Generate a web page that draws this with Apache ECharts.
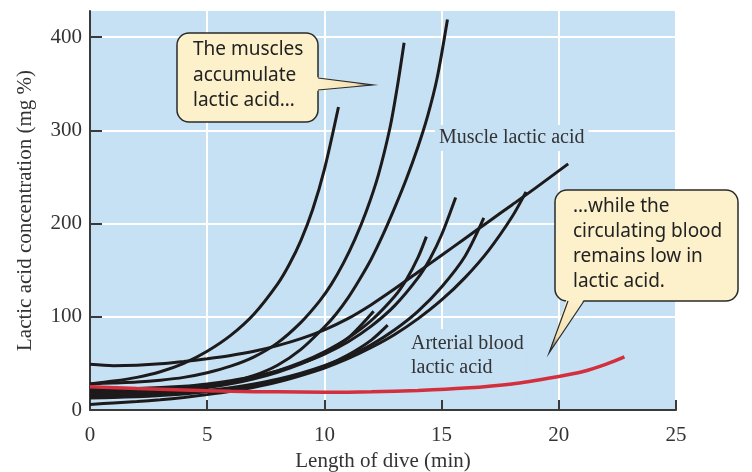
<!DOCTYPE html>
<html><head><meta charset="utf-8">
<script src="https://cdn.jsdelivr.net/npm/echarts@6/dist/echarts.min.js"></script>
<style>html,body{margin:0;padding:0;background:#fff}#c{width:752px;height:472px}</style>
</head><body><div id="c"></div>
<script>
// tick values
const xTicks = [0, 5, 10, 15, 20, 25];
const yTicks = [0, 100, 200, 300, 400];

// muscle lactic acid curves (minute, mg %)
const muscleA = [[0,28],[1,31],[2,35],[3,41],[4,50],[5,63],[6,80],[7,103],[8,135],[8.5,156],[9,182],[9.5,215],[10,258],[10.6,325]];
const muscleB = [[0,28],[1,29],[2,30],[3,32],[4,35],[5,40],[6,47],[7,57],[8,72],[9,94],[9.8,117],[10.3,135],[10.8,157],[11.3,183],[11.8,214],[12.3,252],[12.8,303],[13.1,345],[13.4,394]];
const muscleC = [[0,20],[1,20.5],[2,21],[3,22],[4,23.5],[5,26],[6,30],[7,37],[8,48],[9,65],[10,89],[10.5,103],[11,120],[11.5,140],[12,162],[12.5,188],[13,217],[13.5,248],[14,283],[14.4,315],[14.8,355],[15.25,419]];
const muscleD = [[0,22],[2,23],[4,25.5],[5,28],[6,31.5],[7,36],[8,42],[9,50],[10,60],[11,73],[12,90],[13,112],[14,142],[14.5,162],[15,188],[15.6,228]];
const muscleE = [[0,49],[1,47.5],[2,48],[3,49.5],[4,52],[5,55],[6,58.5],[7,63],[8,69],[9,76.5],[10,86],[11,98],[12,113],[13,130],[14,148],[15,166],[16,184],[17,202],[18,220],[19,238],[20.4,264]];
const muscleF = [[0,6],[1,7.5],[2,9],[3,11],[4,13.5],[5,16.5],[6,20],[7,24.5],[8,30],[9,37],[10,45],[11,55],[12,67],[13,81],[14,98],[15,118],[16,142],[17,171],[18,207],[18.6,234]];
const muscleG = [[0,15],[1,15.5],[2,16.3],[3,17.5],[4,19],[5,21],[6,24],[7,28],[8,33],[9,39.5],[10,47.5],[11,57.5],[12,70],[13,86],[14,106],[15,132],[16,165],[16.8,206]];
const muscleH = [[0,18],[1,18.5],[2,19.3],[3,20.5],[4,22.5],[5,25.5],[6,29.5],[7,35],[8,42],[9,51],[10,62.5],[11,77],[12,96],[13,122],[13.5,140],[14,164],[14.35,186]];
const muscleI = [[0,17],[1,17.3],[2,18],[3,19.3],[4,21.2],[5,24],[6,28],[7,33.5],[8,40.5],[9,49.5],[10,61],[11,77],[12.1,106]];
const muscleJ = [[0,13],[1,13.5],[2,14.3],[3,15.5],[4,17.2],[5,19.5],[6,22.5],[7,26.5],[8,31.5],[9,38],[10,47],[11,59],[12,75],[12.7,91]];
// arterial blood lactic acid
const arterial = [[0,25],[2,23],[4,21.5],[6,20],[8,19.5],[10,19],[12,19.5],[14,21],[16,23.5],[18,28],[20,36],[21,41],[22,49],[22.8,57]];

const muscleCurves = [muscleA, muscleB, muscleC, muscleD, muscleE, muscleF, muscleG, muscleH, muscleI, muscleJ];

const serif = 'Liberation Serif';
const sans = 'Noto Sans';
const plotBg = '#c6e0f4';
const axisColor = '#3a3a3a';

const chart = echarts.init(document.getElementById('c'), null, {renderer: 'canvas'});

const series = muscleCurves.map(d => ({
  type: 'line', data: d, smooth: 0.3, symbol: 'none', clip: false,
  lineStyle: {color: '#1c1a1a', width: 3}, z: 3
}));
series.push({
  type: 'line', data: arterial, smooth: 0.3, symbol: 'none',
  lineStyle: {color: '#d3303e', width: 3.5}, z: 4
});

const option = {
  animation: false,
  grid: {left: 90, right: 76, top: 11, bottom: 62, show: true, backgroundColor: plotBg, borderWidth: 0,
         containLabel: false, outerBoundsMode: 'none'},
  xAxis: {
    type: 'value', min: 0, max: 25, interval: 5,
    name: 'Length of dive (min)', nameLocation: 'middle', nameGap: 41,
    nameTextStyle: {fontFamily: serif, fontSize: 21, color: '#333'},
    axisLine: {lineStyle: {color: axisColor, width: 2}},
    axisTick: {inside: true, length: 10, lineStyle: {color: axisColor, width: 2}},
    axisLabel: {fontFamily: serif, fontSize: 21, color: '#333', margin: 15, customValues: xTicks},
    splitLine: {lineStyle: {color: '#ffffff', width: 2}}
  },
  yAxis: {
    type: 'value', min: 0, max: 428, interval: 100,
    name: 'Lactic acid concentration (mg %)', nameLocation: 'middle', nameGap: 54,
    nameTextStyle: {fontFamily: serif, fontSize: 21, color: '#333'},
    axisLine: {lineStyle: {color: axisColor, width: 2}},
    axisTick: {inside: true, length: 12, lineStyle: {color: axisColor, width: 2}, customValues: yTicks},
    axisLabel: {fontFamily: serif, fontSize: 21, color: '#333', margin: 8, customValues: yTicks},
    splitLine: {lineStyle: {color: '#ffffff', width: 2}}
  },
  series: series,
  graphic: [
    {type: 'text', z: 1, left: 435, top: 125,
     style: {text: 'Muscle lactic acid', font: '20px "' + serif + '"', fill: '#333', backgroundColor: plotBg, padding: [3, 4]}},
    {type: 'text', z: 1, left: 407, top: 329,
     style: {text: 'Arterial blood\nlactic acid', font: '20px "' + serif + '"', fill: '#333', lineHeight: 24, backgroundColor: plotBg, padding: [3, 4, 20, 4]}},
    // callout 1
    {type: 'polygon', z: 10, shape: {points: [[315, 77], [373, 85], [315, 91]]},
     style: {fill: new echarts.graphic.LinearGradient(0, 0, 1, 0, [{offset: 0, color: '#fdf1cb'}, {offset: 0.7, color: '#f3e2b4'}, {offset: 1, color: '#3a3a3a'}])}},
    {type: 'rect', z: 9, shape: {x: 177, y: 33, width: 141, height: 89, r: 12},
     style: {fill: '#fdf1cb', stroke: '#2a2a2a', lineWidth: 1.5}},
    {type: 'polyline', z: 11, shape: {points: [[318, 78], [373, 85], [318, 90]]},
     style: {stroke: '#2a2a2a', lineWidth: 1.2, fill: null}},
    {type: 'text', z: 12, left: 193, top: 37,
     style: {text: 'The muscles\naccumulate\nlactic acid…', font: '19px "' + sans + '"', fill: '#222', lineHeight: 25.5}},
    // callout 2
    {type: 'polygon', z: 10, shape: {points: [[567, 298], [549, 353], [585, 298]]},
     style: {fill: new echarts.graphic.LinearGradient(0, 0, 0, 1, [{offset: 0, color: '#fdf1cb'}, {offset: 0.7, color: '#f3e2b4'}, {offset: 1, color: '#3a3a3a'}])}},
    {type: 'rect', z: 9, shape: {x: 555, y: 190, width: 183, height: 111, r: 12},
     style: {fill: '#fdf1cb', stroke: '#2a2a2a', lineWidth: 1.5}},
    {type: 'polyline', z: 11, shape: {points: [[568, 301], [549, 353], [584, 301]]},
     style: {stroke: '#2a2a2a', lineWidth: 1.2, fill: null}},
    {type: 'text', z: 12, left: 573, top: 194,
     style: {text: '…while the\ncirculating blood\nremains low in\nlactic acid.', font: '19px "' + sans + '"', fill: '#222', lineHeight: 25}}
  ]
};
chart.setOption(option);
</script>
</body></html>
